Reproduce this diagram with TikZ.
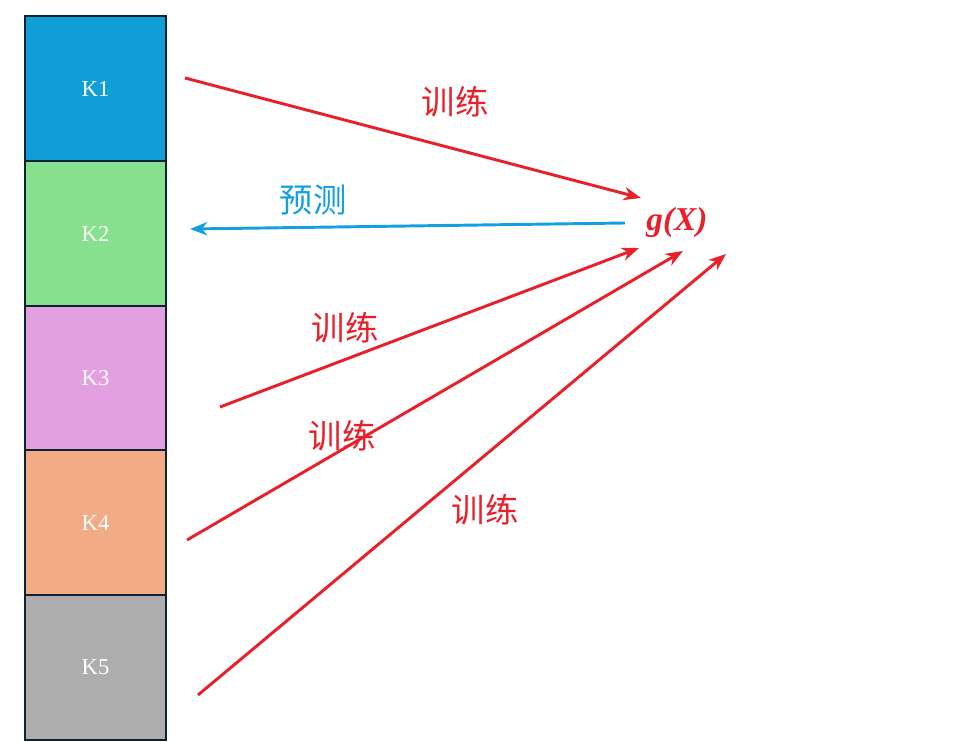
\documentclass[tikz,border=0pt]{standalone}
\usepackage{fontspec}
\setmainfont{Liberation Serif}
\newfontfamily\cjk{Noto Sans CJK SC}
\usetikzlibrary{arrows.meta,positioning}
\definecolor{kone}{HTML}{109ED6}
\definecolor{ktwo}{HTML}{86E08E}
\definecolor{kthree}{HTML}{E2A0E0}
\definecolor{kfour}{HTML}{F1AC86}
\definecolor{kfive}{HTML}{ADADAD}
\definecolor{kborder}{HTML}{0D2233}
\definecolor{trainred}{HTML}{E8202A}
\definecolor{predblue}{HTML}{12A0E0}

\begin{document}
\begin{tikzpicture}[x=0.75pt,y=-0.75pt,
    fold/.style={rectangle,draw=kborder,line width=1.6pt,minimum width=141*0.75pt,minimum height=145*0.75pt,anchor=north west,inner sep=0pt,text=white,font=\fontsize{17}{20}\selectfont},
    train/.style={draw=trainred,line width=2.2pt,-{Stealth[length=13pt,width=10pt]}},
    pred/.style={draw=predblue,line width=2.2pt,-{Stealth[length=13pt,width=10pt]}},
    lbl/.style={font=\cjk\fontsize{25}{27}\selectfont}]
        \useasboundingbox (0,0) rectangle (975,742);

        \node [fold,fill=kone] (k1) at (24,15) {K1};
        \node [fold,fill=ktwo] (k2) at (24,160) {K2};
        \node [fold,fill=kthree] (k3) at (24,305) {K3};
        \node [fold,fill=kfour] (k4) at (24,449) {K4};
        \node [fold,fill=kfive] (k5) at (24,594) {K5};

        \node [text=trainred,font=\bfseries\itshape\fontsize{25}{27}\selectfont] (g) at (677,222) {g(X)};

        \coordinate (s1) at (185,78);
        \coordinate (e1) at (641,198);
        \coordinate (s2) at (625,223);
        \coordinate (e2) at (190,229);
        \coordinate (s3) at (220,407);
        \coordinate (e3) at (639,248);
        \coordinate (s4) at (187,540);
        \coordinate (e4) at (683,251);
        \coordinate (s5) at (198,695);
        \coordinate (e5) at (726,254);

        \draw[train] (s1) to (e1);
        \draw[pred] (s2) to (e2);
        \draw[train] (s3) to (e3);
        \draw[train] (s4) to (e4);
        \draw[train] (s5) to (e5);

        \node [lbl,text=trainred] (t1) at (455,102) {训练};
        \node [lbl,text=predblue] (p2) at (313,200) {预测};
        \node [lbl,text=trainred] (t3) at (345,328) {训练};
        \node [lbl,text=trainred] (t4) at (342,436) {训练};
        \node [lbl,text=trainred] (t5) at (485,510) {训练};
\end{tikzpicture}
\end{document}
